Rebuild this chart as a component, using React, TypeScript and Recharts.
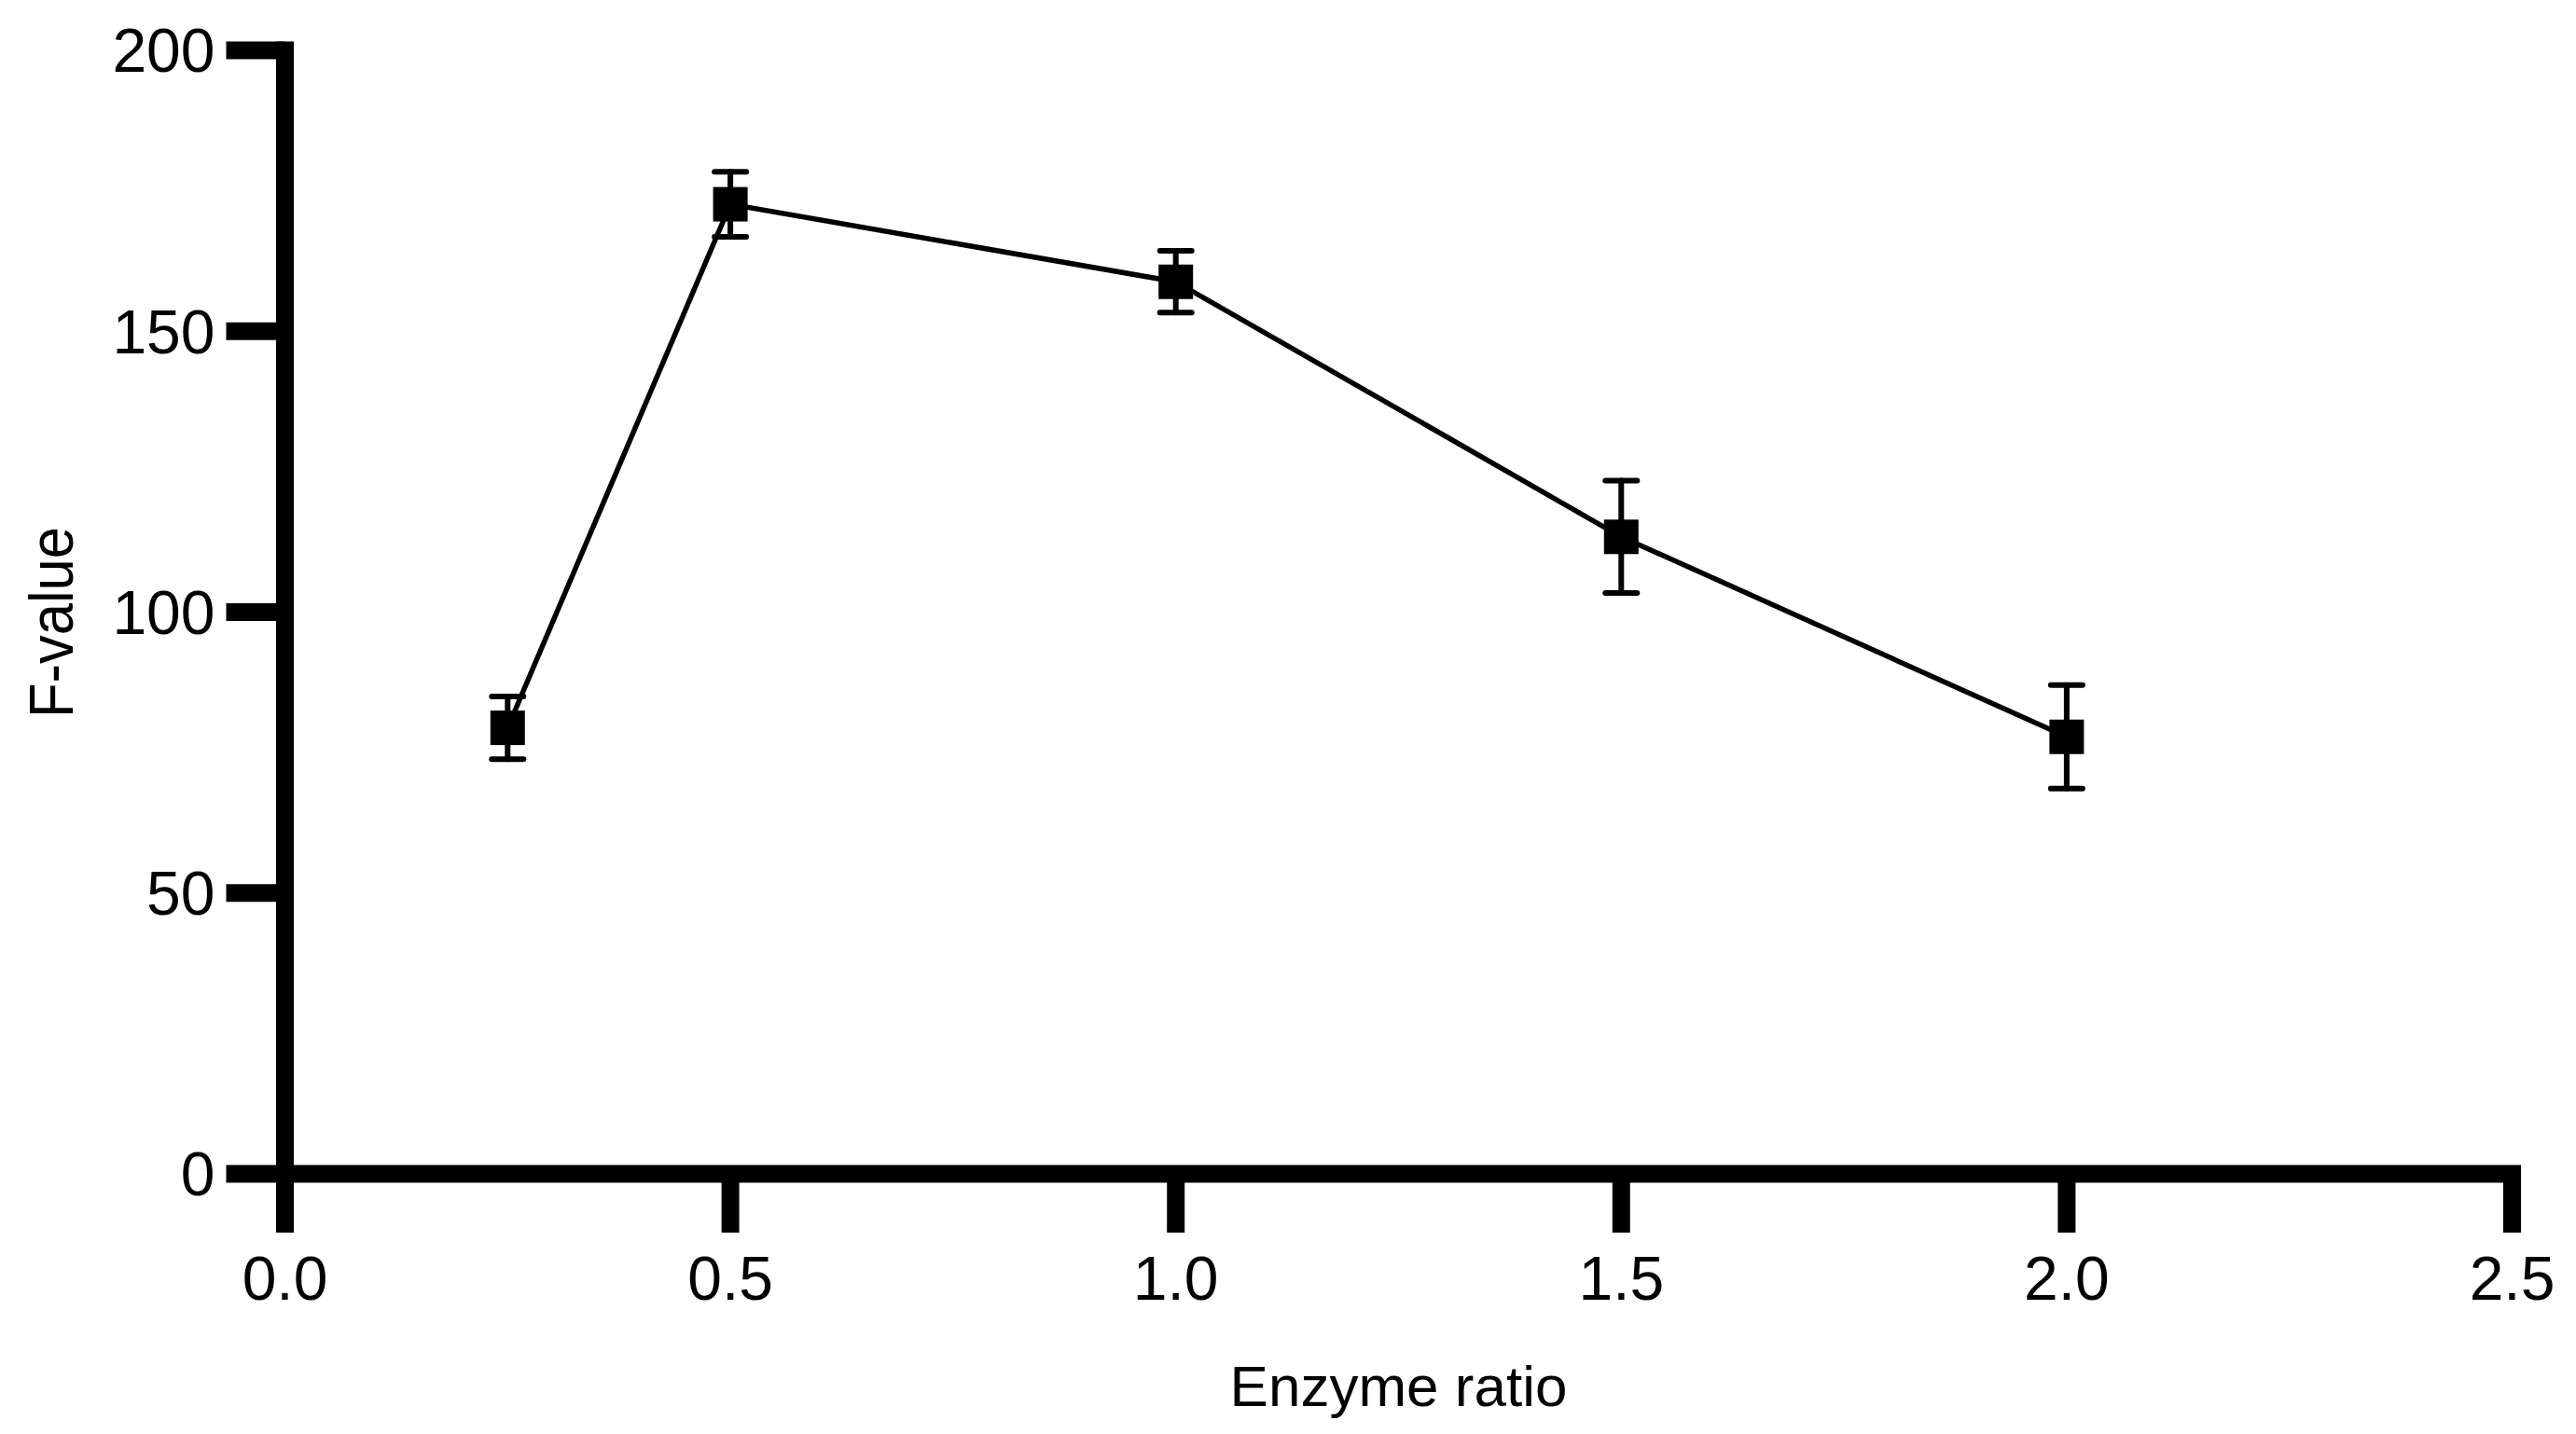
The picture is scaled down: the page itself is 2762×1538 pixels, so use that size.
import React from 'react';
import { LineChart, Line, XAxis, YAxis, ErrorBar, Label } from 'recharts';

const enzymeRatio = [0.25, 0.5, 1.0, 1.5, 2.0];
const fValue = [79.4, 172.6, 158.8, 113.4, 77.8];
const fError = [5.6, 5.8, 5.5, 10.0, 9.2];
const xTicks = [0, 0.5, 1.0, 1.5, 2.0, 2.5];
const yTicks = [0, 50, 100, 150, 200];

const data = enzymeRatio.map((x, i) => ({ x, y: fValue[i], err: fError[i] }));

const FONT = '"Liberation Sans", Arial, Helvetica, sans-serif';

const SquareDot = (props: any) => {
  const { cx, cy, index } = props;
  if (cx == null || cy == null) return <g key={index} />;
  return <rect key={index} x={cx - 18.5} y={cy - 18.5} width={37} height={37} fill="#000" />;
};

export default function App() {
  return (
    <div style={{ width: 2762, height: 1538, background: '#fff' }}>
      <style>{`body{margin:0;background:#fff}`}</style>
      <LineChart
        width={2762}
        height={1538}
        data={data}
        margin={{ top: 54, right: 68.5, bottom: 79, left: 0 }}
      >
        <XAxis
          type="number"
          dataKey="x"
          domain={[0, 2.5]}
          ticks={xTicks}
          interval={0}
          height={200}
          tickFormatter={(v: number) => v.toFixed(1)}
          axisLine={{ stroke: '#000', strokeWidth: 19, strokeLinecap: 'square' }}
          tickLine={{ stroke: '#000', strokeWidth: 19 }}
          tickSize={63}
          tickMargin={25}
          tick={{ fill: '#000', fontSize: 66, fontFamily: FONT }}
        >
          <Label
            content={(p: any) => {
              const vb = p.viewBox || { x: 0, y: 0, width: 0 };
              return (
                <text
                  x={vb.x + vb.width / 2}
                  y={vb.y + 249}
                  textAnchor="middle"
                  fontSize={62}
                  fontFamily={FONT}
                  fill="#000"
                >
                  Enzyme ratio
                </text>
              );
            }}
          />
        </XAxis>
        <YAxis
          type="number"
          domain={[0, 200]}
          ticks={yTicks}
          interval={0}
          width={305.5}
          axisLine={{ stroke: '#000', strokeWidth: 19, strokeLinecap: 'square' }}
          tickLine={{ stroke: '#000', strokeWidth: 19 }}
          tickSize={63}
          tickMargin={12}
          tick={{ fill: '#000', fontSize: 66, fontFamily: FONT }}
        >
          <Label
            content={(p: any) => {
              const vb = p.viewBox || { x: 0, y: 0, height: 0 };
              const cx = vb.x + 78;
              const cy = vb.y + vb.height / 2 + 11;
              return (
                <text
                  x={cx}
                  y={cy}
                  transform={`rotate(-90, ${cx}, ${cy})`}
                  textAnchor="middle"
                  fontSize={66}
                  fontFamily={FONT}
                  fill="#000"
                  textLength={205}
                  lengthAdjust="spacingAndGlyphs"
                >
                  F-value
                </text>
              );
            }}
          />
        </YAxis>
        <Line
          type="linear"
          dataKey="y"
          stroke="#000"
          strokeWidth={5.5}
          dot={SquareDot}
          activeDot={false}
          isAnimationActive={false}
        >
          <ErrorBar
            dataKey="err"
            direction="y"
            width={17}
            stroke="#000"
            strokeWidth={6}
            strokeLinecap="round"
            isAnimationActive={false}
          />
        </Line>
      </LineChart>
    </div>
  );
}
